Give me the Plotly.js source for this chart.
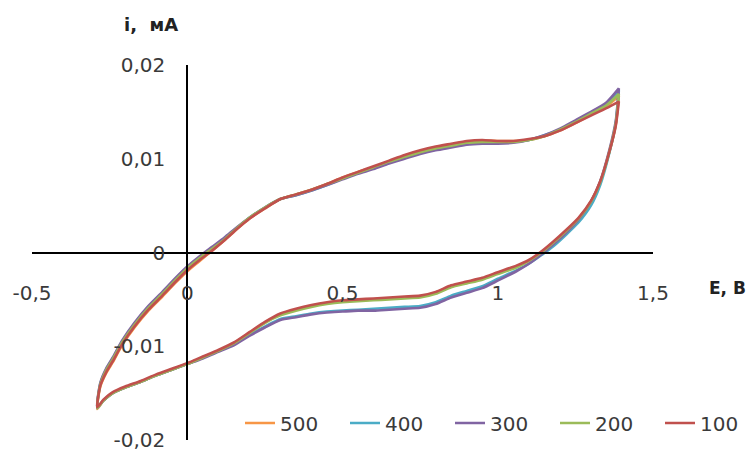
<!DOCTYPE html>
<html>
<head>
<meta charset="utf-8">
<script src="https://cdn.plot.ly/plotly-3.0.1.min.js"></script>
<style>html,body{margin:0;padding:0;background:#fff;}#chart{width:747px;height:451px;}</style>
</head>
<body>
<div id="chart"></div>
<script>
// Potential sweep: forward (anodic) and backward (cathodic) branches, V
var E_forward = [-0.29,-0.28,-0.26,-0.24,-0.21,-0.17,-0.125,-0.08,-0.04,0,0.04,0.08,0.12,0.16,0.2,0.25,0.3,0.35,0.4,0.45,0.5,0.55,0.6,0.65,0.7,0.75,0.8,0.85,0.9,0.95,1,1.05,1.1,1.15,1.2,1.25,1.3,1.35,1.39];
var E_backward = [1.39,1.38,1.36,1.33,1.3,1.26,1.22,1.18,1.14,1.1,1.06,1,0.95,0.9,0.85,0.8,0.75,0.7,0.65,0.6,0.55,0.5,0.45,0.4,0.35,0.3,0.25,0.2,0.15,0.1,0.05,0,-0.05,-0.1,-0.15,-0.2,-0.24,-0.27,-0.29];

// Current, mA — series 500
var i500_fwd = [-0.0167,-0.0143,-0.0128,-0.0117,-0.0099,-0.0080,-0.0062,-0.0047,-0.0033,-0.0020,-0.0009,0.0002,0.0013,0.0025,0.0036,0.0047,0.0057,0.0062,0.0067,0.0073,0.0080,0.0086,0.0091,0.0097,0.0103,0.0108,0.0112,0.0115,0.0118,0.0119,0.0119,0.0119,0.0120,0.0124,0.0130,0.0138,0.0147,0.0156,0.0167];
var i500_bwd = [0.0167,0.0136,0.0108,0.0075,0.0054,0.0036,0.0023,0.0011,0.0000,-0.0009,-0.0015,-0.0022,-0.0028,-0.0032,-0.0036,-0.0043,-0.0047,-0.0048,-0.0049,-0.0050,-0.0051,-0.0052,-0.0054,-0.0057,-0.0061,-0.0066,-0.0075,-0.0086,-0.0097,-0.0105,-0.0112,-0.0119,-0.0125,-0.0131,-0.0138,-0.0144,-0.0150,-0.0158,-0.0167];
// series 400
var i400_fwd = [-0.0166,-0.0140,-0.0124,-0.0113,-0.0095,-0.0076,-0.0058,-0.0043,-0.0029,-0.0016,-0.0005,0.0005,0.0015,0.0026,0.0037,0.0048,0.0057,0.0061,0.0066,0.0072,0.0079,0.0085,0.0090,0.0096,0.0101,0.0106,0.0110,0.0113,0.0116,0.0117,0.0117,0.0118,0.0120,0.0125,0.0131,0.0140,0.0149,0.0158,0.0173];
var i400_bwd = [0.0173,0.0138,0.0107,0.0072,0.0050,0.0032,0.0019,0.0007,-0.0003,-0.0012,-0.0019,-0.0028,-0.0036,-0.0041,-0.0046,-0.0053,-0.0057,-0.0058,-0.0059,-0.0060,-0.0061,-0.0062,-0.0063,-0.0065,-0.0068,-0.0071,-0.0079,-0.0088,-0.0098,-0.0105,-0.0112,-0.0119,-0.0125,-0.0131,-0.0138,-0.0144,-0.0150,-0.0158,-0.0166];
// series 300
var i300_fwd = [-0.0165,-0.0139,-0.0123,-0.0112,-0.0094,-0.0075,-0.0057,-0.0042,-0.0028,-0.0015,-0.0004,0.0006,0.0016,0.0027,0.0037,0.0048,0.0057,0.0061,0.0066,0.0072,0.0078,0.0084,0.0089,0.0095,0.0100,0.0105,0.0109,0.0112,0.0115,0.0116,0.0116,0.0117,0.0120,0.0125,0.0132,0.0141,0.0150,0.0160,0.0175];
var i300_bwd = [0.0175,0.0140,0.0110,0.0076,0.0054,0.0035,0.0021,0.0009,-0.0002,-0.0012,-0.0020,-0.0030,-0.0038,-0.0043,-0.0048,-0.0055,-0.0059,-0.0060,-0.0061,-0.0062,-0.0062,-0.0063,-0.0064,-0.0066,-0.0069,-0.0072,-0.0080,-0.0089,-0.0099,-0.0106,-0.0113,-0.0119,-0.0125,-0.0131,-0.0138,-0.0144,-0.0150,-0.0158,-0.0165];
// series 200
var i200_fwd = [-0.0166,-0.0141,-0.0125,-0.0114,-0.0096,-0.0077,-0.0059,-0.0044,-0.0030,-0.0017,-0.0006,0.0004,0.0014,0.0026,0.0037,0.0048,0.0057,0.0062,0.0067,0.0073,0.0079,0.0085,0.0091,0.0097,0.0102,0.0107,0.0111,0.0114,0.0117,0.0118,0.0118,0.0118,0.0120,0.0124,0.0131,0.0139,0.0148,0.0157,0.0169];
var i200_bwd = [0.0169,0.0137,0.0108,0.0075,0.0054,0.0036,0.0023,0.0011,0.0000,-0.0009,-0.0016,-0.0023,-0.0029,-0.0033,-0.0037,-0.0044,-0.0048,-0.0049,-0.0050,-0.0051,-0.0052,-0.0053,-0.0055,-0.0058,-0.0062,-0.0067,-0.0075,-0.0086,-0.0097,-0.0105,-0.0112,-0.0119,-0.0125,-0.0131,-0.0138,-0.0144,-0.0150,-0.0158,-0.0166];
// series 100
var i100_fwd = [-0.0165,-0.0142,-0.0127,-0.0116,-0.0098,-0.0079,-0.0061,-0.0046,-0.0032,-0.0019,-0.0008,0.0002,0.0013,0.0025,0.0036,0.0047,0.0057,0.0062,0.0067,0.0073,0.0080,0.0086,0.0092,0.0098,0.0104,0.0109,0.0113,0.0116,0.0119,0.0120,0.0119,0.0119,0.0121,0.0124,0.0130,0.0138,0.0146,0.0154,0.0161];
var i100_bwd = [0.0161,0.0135,0.0108,0.0076,0.0055,0.0037,0.0024,0.0012,0.0001,-0.0008,-0.0014,-0.0021,-0.0027,-0.0031,-0.0035,-0.0042,-0.0046,-0.0047,-0.0048,-0.0049,-0.0050,-0.0051,-0.0053,-0.0056,-0.0060,-0.0065,-0.0074,-0.0085,-0.0096,-0.0104,-0.0111,-0.0118,-0.0124,-0.0130,-0.0137,-0.0143,-0.0149,-0.0157,-0.0165];

var seriesNames = ['500','400','300','200','100'];
var seriesColors = ['#F79646','#4BACC6','#8064A2','#9BBB59','#C0504D'];

var xTickVals = [-0.5,0,0.5,1,1.5];
var xTickText = ['-0,5','0','0,5','1','1,5'];
var yTickVals = [-0.02,-0.01,0,0.01,0.02];
var yTickText = ['-0,02','-0,01','0','0,01','0,02'];

var fwd = [i500_fwd,i400_fwd,i300_fwd,i200_fwd,i100_fwd];
var bwd = [i500_bwd,i400_bwd,i300_bwd,i200_bwd,i100_bwd];

var traces = seriesNames.map(function(name, k){
  return {
    type: 'scatter', mode: 'lines', name: name,
    x: E_forward.concat(E_backward),
    y: fwd[k].concat(bwd[k]),
    line: {color: seriesColors[k], width: 2.6, shape: 'spline', smoothing: 0.6},
    hoverinfo: 'x+y'
  };
});

var font = {family: 'DejaVu Sans, sans-serif', size: 20, color: '#3a3a3a'};

var layout = {
  width: 747, height: 451,
  margin: {l: 32, r: 94, t: 65, b: 11, autoexpand: false},
  paper_bgcolor: '#ffffff', plot_bgcolor: '#ffffff',
  font: font,
  showlegend: true,
  legend: {
    orientation: 'h', xref: 'container', yref: 'container',
    x: 240/747, y: (451-423)/451, xanchor: 'left', yanchor: 'middle',
    bgcolor: 'rgba(0,0,0,0)', font: {family: font.family, size: 20, color: '#3a3a3a'},
    entrywidth: 60, entrywidthmode: 'pixels', tracegroupgap: 0, itemwidth: 30
  },
  xaxis: {
    range: [-0.5, 1.5], tickvals: xTickVals, ticktext: xTickText,
    showgrid: false, showline: false, ticks: '',
    zeroline: true, zerolinecolor: '#000000', zerolinewidth: 2,
    anchor: 'free', position: 0.43, tickfont: font, ticklabeloverflow: 'allow',
    layer: 'above traces', zerolinelayer: 'above traces'
  },
  yaxis: {
    range: [-0.02, 0.02], tickvals: yTickVals, ticktext: yTickText,
    showgrid: false, showline: false, ticks: '',
    zeroline: true, zerolinecolor: '#000000', zerolinewidth: 2,
    anchor: 'free', position: 0.25, tickfont: font, ticklabelstandoff: 22,
    ticklabeloverflow: 'allow',
    layer: 'above traces', zerolinelayer: 'above traces'
  },
  annotations: [
    {text: '<b>i,  мА</b>', xref: 'paper', yref: 'paper', x: (151-32)/621, y: 1 + (65-25)/375,
     xanchor: 'center', yanchor: 'middle', showarrow: false,
     font: {family: 'DejaVu Sans, sans-serif', size: 18, color: '#222'}},
    {text: '<b>E, В</b>', xref: 'paper', yref: 'paper', x: (707-32)/621, y: (440-288)/375,
     xanchor: 'left', yanchor: 'middle', showarrow: false,
     font: {family: 'DejaVu Sans, sans-serif', size: 17, color: '#222'}}
  ]
};

Plotly.newPlot('chart', traces, layout, {displayModeBar: false, staticPlot: true});
</script>
</body>
</html>
